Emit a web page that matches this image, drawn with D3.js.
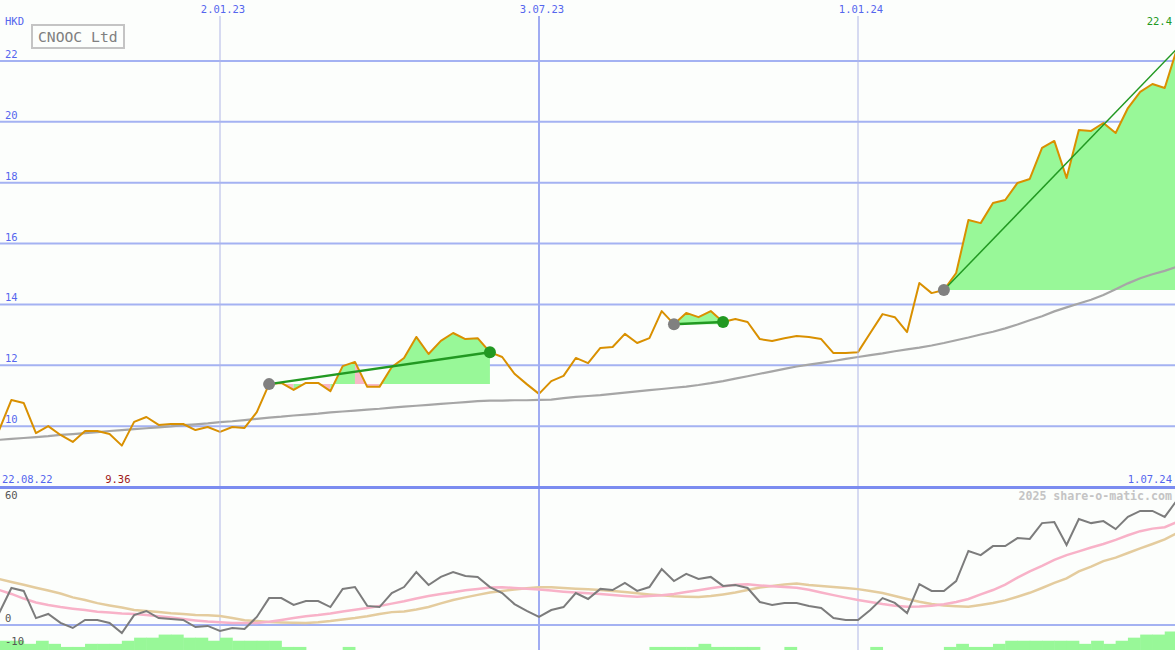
<!DOCTYPE html>
<html><head><meta charset="utf-8">
<script src="https://cdn.jsdelivr.net/npm/d3@7/dist/d3.min.js"></script>
<style>
html,body{margin:0;padding:0;background:#fcfefc;}
svg{display:block;}
text{font-family:"DejaVu Sans Mono",monospace;}
</style></head><body>
<svg id="c" width="1175" height="650"></svg>
<script>
// ---------- data ----------
const startDate = "2022-08-29";           // first weekly observation
const stepDays = 7;
const price = [9.87,10.86,10.76,9.77,10.00,9.71,9.48,9.84,9.84,9.74,
9.36,10.14,10.30,10.04,10.07,10.07,9.87,9.97,9.81,9.97,
9.94,10.46,11.38,11.42,11.19,11.42,11.42,11.15,11.97,12.11,
11.29,11.29,11.94,12.24,12.93,12.37,12.80,13.06,12.86,12.89,
12.43,12.27,11.72,11.38,11.06,11.48,11.65,12.24,12.07,12.57,
12.60,13.03,12.73,12.89,13.78,13.35,13.72,13.58,13.78,13.42,
13.52,13.42,12.86,12.80,12.89,12.96,12.93,12.86,12.40,12.40,
12.43,13.06,13.68,13.58,13.09,14.70,14.37,14.47,15.03,16.77,
16.67,17.33,17.43,17.99,18.12,19.14,19.37,18.15,19.73,19.70,
19.96,19.63,20.45,20.98,21.24,21.11,22.40];
const avgLong = [9.55,9.58,9.61,9.64,9.67,9.71,9.74,9.77,9.80,9.84,
9.87,9.90,9.93,9.96,9.99,10.03,10.06,10.09,10.13,10.16,
10.20,10.24,10.28,10.31,10.35,10.38,10.41,10.45,10.48,10.51,
10.54,10.57,10.61,10.64,10.67,10.70,10.73,10.76,10.79,10.82,
10.84,10.84,10.85,10.85,10.86,10.87,10.92,10.96,10.99,11.02,
11.06,11.10,11.14,11.18,11.22,11.26,11.30,11.35,11.41,11.48,
11.56,11.64,11.72,11.80,11.88,11.96,12.02,12.08,12.14,12.21,
12.27,12.33,12.39,12.46,12.52,12.58,12.65,12.73,12.82,12.91,
13.01,13.10,13.21,13.34,13.48,13.61,13.77,13.90,14.03,14.15,
14.31,14.50,14.69,14.86,14.99,15.10,15.24];
const momentum = [5.2,16.1,14.8,3.0,4.8,0.9,-1.3,2.2,2.2,0.9,
-3.5,4.3,6.1,3.0,2.6,2.2,-0.9,-0.4,-2.6,-1.3,
-1.7,3.5,11.7,11.7,8.7,10.4,10.4,7.8,15.7,16.5,
8.3,7.8,13.9,16.5,23.0,17.4,20.9,23.0,21.3,20.9,
16.5,13.9,9.1,6.1,3.5,6.5,7.8,13.9,11.3,15.7,
15.2,18.3,14.8,16.5,24.3,19.1,22.2,20.0,20.9,17.0,
17.4,16.1,10.0,8.7,9.6,9.6,8.3,7.4,3.0,2.2,
2.2,6.5,11.7,9.6,5.2,17.8,14.8,14.8,19.1,32.2,
30.4,34.3,34.3,37.8,37.4,44.3,44.8,34.8,46.1,44.3,
45.2,41.7,47.0,49.6,49.6,47.0,54.3];
const momFast = [15.2,13.5,11.5,9.8,8.7,7.8,7.1,6.5,5.8,5.4,
5.0,4.8,4.3,3.8,3.3,2.6,2.0,1.5,1.2,0.9,
0.9,0.9,1.4,2.2,3.0,3.8,4.3,5.0,5.9,6.6,
7.4,8.3,9.3,10.3,11.5,12.6,13.5,14.2,15.1,15.7,
16.3,16.4,16.1,15.8,15.4,15.0,14.5,14.1,13.8,13.5,
13.0,12.6,12.3,12.6,12.9,13.5,14.3,15.1,16.0,16.7,
17.5,17.7,17.2,16.8,16.5,16.2,15.3,14.1,13.0,11.9,
10.9,10.0,9.1,8.4,7.9,8.0,8.4,9.0,10.0,11.3,
13.3,15.2,17.6,20.6,23.3,25.7,28.3,30.4,32.0,33.7,
35.2,37.0,39.0,40.8,41.9,42.5,44.8];
const momSlow = [20.0,18.7,17.5,16.2,15.0,13.7,12.0,10.9,9.5,8.5,
7.6,6.5,6.1,5.7,5.1,4.8,4.4,4.2,3.9,3.0,
2.1,1.7,1.3,1.1,1.0,0.9,1.2,1.7,2.4,3.0,
3.8,4.8,5.6,5.9,6.7,7.8,9.4,10.9,12.0,13.1,
14.1,14.8,15.4,16.0,16.4,16.4,16.1,15.8,15.5,15.2,
14.8,14.3,13.8,13.3,12.9,12.5,12.3,12.2,12.6,13.3,
14.1,15.2,16.3,17.0,17.6,18.0,17.4,17.0,16.5,16.1,
15.6,14.8,13.9,12.6,11.3,10.1,9.1,8.5,8.2,7.9,
8.7,9.6,10.7,12.3,14.0,16.1,18.3,20.3,23.3,25.4,
27.8,29.3,31.3,33.3,35.2,37.2,40.0];
const strength = [3,3,2,3,2,1,1,2,2,2,
3,4,4,5,5,4,4,3,4,3,
3,3,3,1,1,0,0,0,1,0,
0,0,0,0,0,0,0,0,0,0,
0,0,0,0,0,0,0,0,0,0,
0,0,0,1,1,1,1,2,1,1,
1,1,0,0,1,0,0,0,0,0,
0,1,0,0,0,0,0,1,2,1,
1,2,3,3,3,3,3,3,2,3,
2,3,4,5,5,6,6];
const gridDates = ["2023-01-02","2023-07-03","2024-01-01"];
const gridMajor = [false,true,false];
const priceTicks = [10,12,14,16,18,20,22];
const lowerTicks = [60,0,-10];
const rangeLabels = ["22.08.22","1.07.24"];
const tradeFrom = [22,55,77];
const tradeTo = [40,59,96];
const tradeOpen = [false,false,true];
const title = "CNOOC Ltd";
const currency = "HKD";
const credit = "2025 share-o-matic.com";

// ---------- setup ----------
const W = 1175, H = 650;
const parse = d3.timeParse("%Y-%m-%d");
const d0 = parse(startDate);
const dates = price.map((_, i) => d3.timeDay.offset(d0, i * stepDays));
const gDates = gridDates.map(parse);

const x = d3.scaleTime().domain([gDates[0], gDates[2]]).range([220, 858]);
const yTop = d3.scaleLinear().domain([8, 24]).range([487, 0]);
const yLow = d3.scaleLinear().domain([-10, 60]).range([648, 487]);
const yBar = d3.scaleLinear().domain([0, 6]).range([650, 631.5]);

const svg = d3.select("#c");
svg.append("rect").attr("width", W).attr("height", H).attr("fill", "#fcfefc");

const defs = svg.append("defs");
defs.append("clipPath").attr("id", "topclip").append("rect")
  .attr("x", 0).attr("y", 0).attr("width", W).attr("height", 486);
defs.append("clipPath").attr("id", "lowclip").append("rect")
  .attr("x", 0).attr("y", 489).attr("width", W).attr("height", H - 489);

// horizontal grid (top)
svg.append("g").selectAll("line").data(priceTicks).join("line")
  .attr("x1", 0).attr("x2", W)
  .attr("y1", d => yTop(d)).attr("y2", d => yTop(d))
  .attr("stroke", "#a4b2f2").attr("stroke-width", 2);

// lower zero line
svg.append("line").attr("x1", 0).attr("x2", W)
  .attr("y1", yLow(0)).attr("y2", yLow(0))
  .attr("stroke", "#a4b2f2").attr("stroke-width", 2);

// trade fills
const topG = svg.append("g").attr("clip-path", "url(#topclip)");
const fillG = topG.append("g");
tradeFrom.forEach((s, t) => {
  const e = tradeTo[t];
  const base = price[s];
  // group consecutive segments with the same colour
  let runStart = s;
  const colourOf = k => price[k + 1] >= base ? "#98f898" : "#f8b8c8";
  for (let k = s; k < e; k++) {
    const c = colourOf(k);
    const last = (k === e - 1) || colourOf(k + 1) !== c;
    if (last) {
      const idx = d3.range(runStart, k + 2);
      const area = d3.area()
        .x(i => x(dates[i]))
        .y0(yTop(base))
        .y1(i => yTop(price[i]));
      fillG.append("path").attr("d", area(idx)).attr("fill", c);
      runStart = k + 1;
    }
  }
});

// vertical grid
svg.append("g").selectAll("line").data(gDates).join("line")
  .attr("x1", d => x(d)).attr("x2", d => x(d))
  .attr("y1", 16).attr("y2", H)
  .attr("stroke", (d, i) => gridMajor[i] ? "#a0acf2" : "#b0b6e6")
  .attr("stroke-width", (d, i) => gridMajor[i] ? 2 : 1);

// separator
svg.append("line").attr("x1", 0).attr("x2", W).attr("y1", 487.5).attr("y2", 487.5)
  .attr("stroke", "#7b8cf0").attr("stroke-width", 3);

// strength bars
const lowG = svg.append("g").attr("clip-path", "url(#lowclip)");
const idxAll = d3.range(price.length);
const stepW = x(dates[1]) - x(dates[0]);
lowG.append("g").selectAll("rect").data(idxAll.filter(i => strength[i] > 0)).join("rect")
  .attr("x", i => x(dates[i]))
  .attr("width", i => (i + 1 < dates.length ? x(dates[i + 1]) - x(dates[i]) : stepW) + 0.5)
  .attr("y", i => yBar(strength[i]))
  .attr("height", i => yBar(0) - yBar(strength[i]))
  .attr("fill", "#98f898");

const lowLine = arr => d3.line().x(i => x(dates[i])).y(i => yLow(arr[i]))(idxAll);
lowG.append("path").attr("d", lowLine(momSlow)).attr("fill", "none")
  .attr("stroke", "#e4cc9e").attr("stroke-width", 2.5);
lowG.append("path").attr("d", lowLine(momFast)).attr("fill", "none")
  .attr("stroke", "#f8b2c8").attr("stroke-width", 2.5);
lowG.append("path").attr("d", lowLine(momentum)).attr("fill", "none")
  .attr("stroke", "#7c7c7c").attr("stroke-width", 2);

// top lines
const topLine = arr => d3.line().x(i => x(dates[i])).y(i => yTop(arr[i]))(idxAll);
topG.append("path").attr("d", topLine(avgLong)).attr("fill", "none")
  .attr("stroke", "#a6a6a6").attr("stroke-width", 2.2);
topG.append("path").attr("d", topLine(price)).attr("fill", "none")
  .attr("stroke", "#d99000").attr("stroke-width", 2).attr("stroke-linejoin", "round");

// trend lines & dots
tradeFrom.forEach((s, t) => {
  const e = tradeTo[t];
  topG.append("line")
    .attr("x1", x(dates[s])).attr("y1", yTop(price[s]))
    .attr("x2", x(dates[e])).attr("y2", yTop(price[e]))
    .attr("stroke", "#229922").attr("stroke-width", tradeOpen[t] ? 1.5 : 2.5);
});
tradeFrom.forEach((s, t) => {
  const e = tradeTo[t];
  topG.append("circle").attr("cx", x(dates[s])).attr("cy", yTop(price[s])).attr("r", 6)
    .attr("fill", "#808080");
  if (!tradeOpen[t]) {
    topG.append("circle").attr("cx", x(dates[e])).attr("cy", yTop(price[e])).attr("r", 6)
      .attr("fill", "#229922");
  }
});

// ---------- texts ----------
const blue = "#5566ee";
svg.append("text").attr("x", 5).attr("y", 25).attr("font-size", 10.5).attr("fill", blue).text(currency);
svg.append("g").selectAll("text").data(priceTicks).join("text")
  .attr("x", 5).attr("y", d => yTop(d) - 3).attr("font-size", 10.5).attr("fill", blue)
  .text(d => d);
const fmtDate = d3.timeFormat("%-d.%m.%y");
svg.append("g").selectAll("text").data(gDates).join("text")
  .attr("x", d => x(d) + 3).attr("y", 13).attr("text-anchor", "middle")
  .attr("font-size", 10.5).attr("fill", blue).text(d => fmtDate(d));

svg.append("rect").attr("x", 32).attr("y", 25).attr("width", 92).attr("height", 23)
  .attr("fill", "#fcfefc").attr("stroke", "#c4c4c4").attr("stroke-width", 2);
svg.append("text").attr("x", 38).attr("y", 42).attr("font-size", 14.7).attr("fill", "#808080").text(title);

svg.append("text").attr("x", 1172).attr("y", 25).attr("text-anchor", "end")
  .attr("font-size", 10.5).attr("fill", "#229922").text(String(price[price.length - 1]));

svg.append("text").attr("x", 2).attr("y", 483).attr("font-size", 10.5).attr("fill", blue).text(rangeLabels[0]);
svg.append("text").attr("x", 1172).attr("y", 483).attr("text-anchor", "end")
  .attr("font-size", 10.5).attr("fill", blue).text(rangeLabels[1]);

const minIdx = d3.minIndex(price);
svg.append("text").attr("x", x(dates[minIdx]) - 4).attr("y", 483).attr("text-anchor", "middle")
  .attr("font-size", 10.5).attr("fill", "#a01818").text(d3.format(".2f")(price[minIdx]));

svg.append("g").selectAll("text").data(lowerTicks).join("text")
  .attr("x", 5).attr("y", d => d === 60 ? yLow(d) + 12 : yLow(d) - 3)
  .attr("font-size", 10.5).attr("fill", "#555").text(d => d);

svg.append("text").attr("x", 1172).attr("y", 500).attr("text-anchor", "end")
  .attr("font-size", 11.6).attr("font-weight", "bold").attr("fill", "#c4c4c4").text(credit);
</script>
</body></html>
